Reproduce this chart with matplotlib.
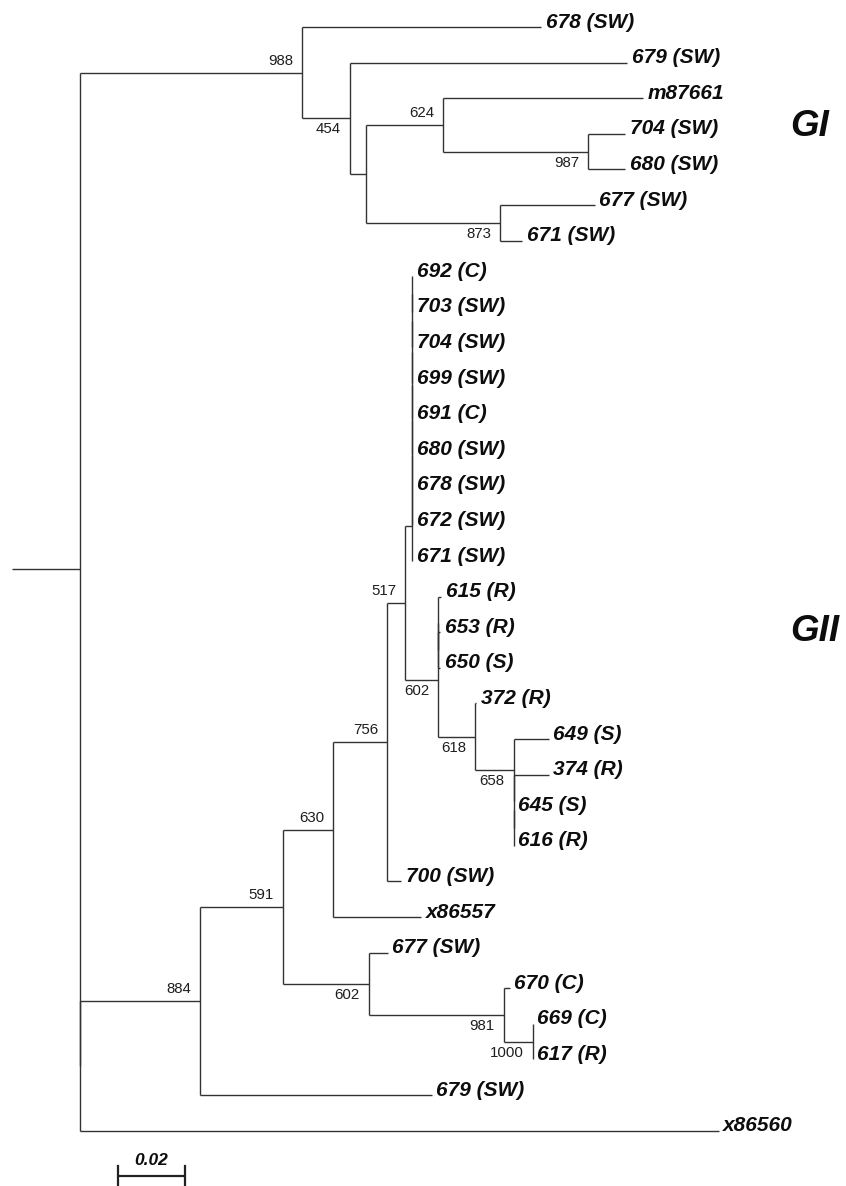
"""Neighbour-joining tree of GI / GII isolates, redrawn with matplotlib."""

import matplotlib

matplotlib.use("Agg")
import matplotlib.pyplot as plt

# Tree edges as (node, parent, branch length); children listed top to bottom.
ROOT_STUB = 0.0204

EDGES_GI = [
    ("gI", "root", 0.0665),
    ("L678a", "gI", 0.0716),
    ("n454", "gI", 0.0144),
    ("L679a", "n454", 0.0829),
    ("n366", "n454", 0.0048),
    ("n624", "n366", 0.0231),
    ("Lm87661", "n624", 0.0599),
    ("n987", "n624", 0.0434),
    ("L704a", "n987", 0.0111),
    ("L680a", "n987", 0.0111),
    ("n873", "n366", 0.0401),
    ("L677a", "n873", 0.0284),
    ("L671a", "n873", 0.0066),
]

EDGES_GII_TOP = [
    ("rootB", "root", 0.0),
    ("gII", "rootB", 0.0359),
    ("n591", "gII", 0.0249),
    ("n630", "n591", 0.0150),
    ("n756", "n630", 0.0162),
    ("n517", "n756", 0.0054),
    ("lad8", "n517", 0.0021),
    ("lad7", "lad8", 0.0),
    ("lad6", "lad7", 0.0),
    ("lad5", "lad6", 0.0),
    ("lad4", "lad5", 0.0),
    ("lad3", "lad4", 0.0),
    ("lad2", "lad3", 0.0),
    ("lad1", "lad2", 0.0),
    ("L692", "lad1", 0.0),
    ("L703", "lad1", 0.0),
    ("L704b", "lad2", 0.0),
    ("L699", "lad3", 0.0),
    ("L691", "lad4", 0.0),
    ("L680b", "lad5", 0.0),
    ("L678b", "lad6", 0.0),
    ("L672", "lad7", 0.0),
    ("L671b", "lad8", 0.0),
    ("n602a", "n517", 0.0099),
    ("sub615", "n602a", 0.0),
    ("L615", "sub615", 0.0009),
    ("sub653", "sub615", 0.0),
    ("L653", "sub653", 0.0006),
    ("L650", "sub653", 0.0006),
    ("n618", "n602a", 0.0111),
    ("L372", "n618", 0.0003),
    ("n658", "n618", 0.0114),
    ("L649", "n658", 0.0105),
    ("z374", "n658", 0.0),
    ("L374", "z374", 0.0105),
    ("z645", "z374", 0.0),
    ("L645", "z645", 0.0),
    ("L616", "z645", 0.0),
    ("L700", "n756", 0.0042),
]

EDGES_GII_BOTTOM = [
    ("Lx86557", "n630", 0.0263),
    ("n602b", "n591", 0.0257),
    ("L677b", "n602b", 0.0057),
    ("n981", "n602b", 0.0404),
    ("L670", "n981", 0.0018),
    ("n1000", "n981", 0.0087),
    ("L669", "n1000", 0.0),
    ("L617", "n1000", 0.0),
    ("L679b", "gII", 0.0695),
    ("Lx86560", "rootB", 0.1913),
]

LEAF_TEXT = {
    "L678a": "678 (SW)", "L679a": "679 (SW)", "Lm87661": "m87661",
    "L704a": "704 (SW)", "L680a": "680 (SW)", "L677a": "677 (SW)",
    "L671a": "671 (SW)", "L692": "692 (C)", "L703": "703 (SW)",
    "L704b": "704 (SW)", "L699": "699 (SW)", "L691": "691 (C)",
    "L680b": "680 (SW)", "L678b": "678 (SW)", "L672": "672 (SW)",
    "L671b": "671 (SW)", "L615": "615 (R)", "L653": "653 (R)",
    "L650": "650 (S)", "L372": "372 (R)", "L649": "649 (S)",
    "L374": "374 (R)", "L645": "645 (S)", "L616": "616 (R)",
    "L700": "700 (SW)", "Lx86557": "x86557", "L677b": "677 (SW)",
    "L670": "670 (C)", "L669": "669 (C)", "L617": "617 (R)",
    "L679b": "679 (SW)", "Lx86560": "x86560",
}

SUPPORT = {
    "gI": 988, "n454": 454, "n624": 624, "n987": 987, "n873": 873,
    "gII": 884, "n591": 591, "n630": 630, "n756": 756, "n517": 517,
    "n602a": 602, "n618": 618, "n658": 658, "n602b": 602,
    "n981": 981, "n1000": 1000,
}

CLADE_NAMES = ["GI", "GII"]
SCALE_BAR_LENGTH = 0.02

LINE_COLOR = "#333333"
TEXT_COLOR = "#0d0d0d"
FONT = ["Liberation Sans", "DejaVu Sans"]


def build_layout(edges):
    children = {}
    length = {}
    for node, parent, blen in edges:
        children.setdefault(parent, []).append(node)
        length[node] = blen

    xs, ys = {"root": 0.0}, {}
    leaf_counter = [0]

    def walk(node):
        for child in children.get(node, []):
            xs[child] = xs[node] + length[child]
            walk(child)
        if node in children:
            kids = children[node]
            ys[node] = 0.5 * (ys[kids[0]] + ys[kids[-1]])
        else:
            ys[node] = float(leaf_counter[0])
            leaf_counter[0] += 1

    walk("root")
    return children, xs, ys


def main():
    edges = EDGES_GI + EDGES_GII_TOP + EDGES_GII_BOTTOM
    children, xs, ys = build_layout(edges)

    fig = plt.figure(figsize=(8.46, 11.86), dpi=100)
    ax = fig.add_axes([0, 0, 1, 1])
    px_per_unit = 3340.0
    ax.set_xlim(-80 / px_per_unit, 766 / px_per_unit)
    ax.set_ylim((1186 - 27) / 35.6, -27 / 35.6)
    ax.axis("off")

    line_kw = dict(color=LINE_COLOR, linewidth=1.0, solid_capstyle="butt")

    # horizontal branches and vertical connectors
    for node, parent, _ in edges:
        ax.plot([xs[parent], xs[node]], [ys[node], ys[node]], **line_kw)
    for node, kids in children.items():
        ax.plot([xs[node], xs[node]], [ys[kids[0]], ys[kids[-1]]], **line_kw)
    ax.plot([-ROOT_STUB, 0.0], [ys["root"], ys["root"]], **line_kw)

    for node, text in LEAF_TEXT.items():
        ax.annotate(
            text, (xs[node], ys[node]), xytext=(3.2, 3.6), textcoords="offset points",
            ha="left", va="center", fontsize=15, fontweight="bold", fontstyle="italic",
            family=FONT, color=TEXT_COLOR,
        )

    parent_of = {node: parent for node, parent, _ in edges}
    for node, value in SUPPORT.items():
        siblings = children[parent_of[node]]
        dy = 8.6 if siblings[0] == node else -8.0
        ax.annotate(
            str(value), (xs[node], ys[node]), xytext=(-6.5, dy), textcoords="offset points",
            ha="right", va="center", fontsize=10.8, family=FONT, color="#1e1e1e",
        )

    # clade names to the right of the tree
    clade_y = [(126.5 - 27) / 35.6, (631.5 - 27) / 35.6]
    for name, y in zip(CLADE_NAMES, clade_y):
        ax.text(790 / px_per_unit - 80 / px_per_unit, y, name, ha="left", va="center",
                fontsize=26.5, fontweight="bold", fontstyle="italic", family=FONT,
                color=TEXT_COLOR)

    # scale bar
    x0 = 38 / px_per_unit
    x1 = x0 + SCALE_BAR_LENGTH
    y_bar = (1176 - 27) / 35.6
    y_tick = (1166 - 27) / 35.6
    ax.plot([x0, x1], [y_bar, y_bar], color="#222222", linewidth=1.6, solid_capstyle="butt")
    for xt in (x0, x1):
        ax.plot([xt, xt], [y_tick, y_bar + 0.3], color="#222222", linewidth=1.6)
    ax.text(0.5 * (x0 + x1), (1160 - 27) / 35.6, f"{SCALE_BAR_LENGTH:.2f}", ha="center",
            va="center", fontsize=12.5, fontweight="bold", fontstyle="italic", family=FONT,
            color=TEXT_COLOR)

    fig.savefig("out.png", dpi=100)
    plt.close(fig)


if __name__ == "__main__":
    main()
